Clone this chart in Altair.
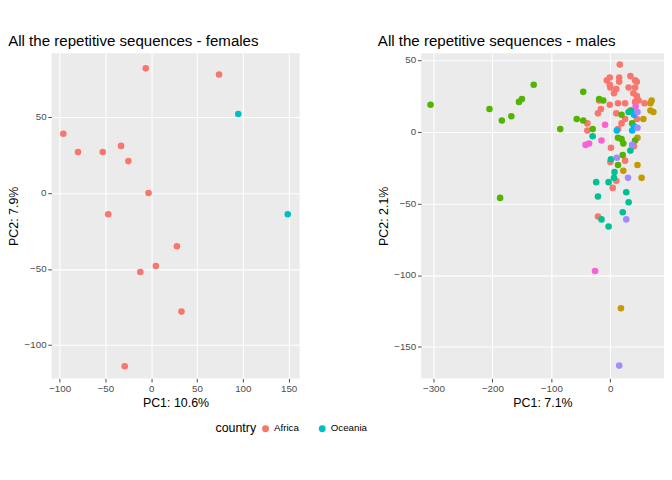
import altair as alt
import pandas as pd

f_x = [-96, -80, -53, -33, -25, -47, -3, -6, 74, 95, 149, 28, 5, -12, 33, -29]
f_y = [39, 27, 27, 31, 21, -14, 0, 82, 78, 52, -14, -35, -48, -52, -78, -114]
f_c = ["Africa"] * 9 + ["Oceania"] * 2 + ["Africa"] * 5

m_red = [(16,47),(-1,38),(-6,36),(15,38),(34,39),(42,36),(45,35),(-1,33),(15,35),(0,31),(10,30),(6,27),
         (31,31),(42,31),(39,27),(45,25),(48,22),(42,21),(58,20),(-19,22),(-1,19),(13,20),(25,20),(-16,16),
         (-21,13),(10,13),(34,15),(45,9),(25,9),(19,6),(-39,6),(13,2),(-39,1),(1,-11),(0,-21),(25,-20),
         (10,-34),(4,-39),(-21,-59),(40,-10)]
m_green = [(-46,28),(-19,23),(-12,22),(-57,9),(-46,8),(-85,2),(-30,2),(19,12),(37,6),(13,-4),(19,-5),
           (22,-8),(42,-6),(21,-16),(13,-23),(-305,19),(-205,16),(-184,8),(-168,11),(-155,21),(-150,23),
           (-130,33),(-187,-46)]
m_teal = [(31,14),(36,15),(-30,-3),(34,-13),(1,-19),(7,-28),(6,-32),(-24,-35),(-3,-35),(27,-42),
          (-21,-45),(31,-49),(21,-56),(-15,-61),(-3,-66)]
m_gold = [(70,22),(68,20),(68,15),(73,14),(56,9),(46,-4),(46,-23),(22,-27),(53,-32),(18,-123)]
m_blue = [(40,12),(40,4),(37,1),(11,1)]
m_purple = [(46,14),(46,3),(37,-9),(11,-18),(30,-32),(27,-61),(15,-163)]
m_magenta = [(43,18),(-9,5),(-15,-6),(-36,-8),(-42,-9),(-26,-97)]

groups = [("A", m_red), ("B", m_gold), ("C", m_green), ("D", m_teal),
          ("E", m_blue), ("F", m_purple), ("G", m_magenta)]
mrows = [{"x": x, "y": y, "g": g} for g, pts in groups for x, y in pts]
mdf = pd.DataFrame(mrows)
fdf = pd.DataFrame({"x": f_x, "y": f_y, "country": f_c})

axis = dict(grid=True, gridColor="white", gridWidth=1.2, domain=False, tickColor="#333333",
            tickSize=4, labelColor="#4D4D4D", labelFontSize=11, titleFontSize=14,
            titleFontWeight="normal", titleColor="black", labelFont="Liberation Sans",
            titleFont="Liberation Sans")

left = alt.Chart(fdf).mark_circle(size=55, opacity=1).encode(
    x=alt.X("x:Q", title="PC1: 10.6%", scale=alt.Scale(domain=[-109, 162], nice=False),
            axis=alt.Axis(values=[-100, -50, 0, 50, 100, 150], **axis)),
    y=alt.Y("y:Q", title="PC2: 7.9%", scale=alt.Scale(domain=[-122, 92], nice=False),
            axis=alt.Axis(values=[-100, -50, 0, 50], **axis)),
    color=alt.Color("country:N", scale=alt.Scale(domain=["Africa", "Oceania"], range=["#F8766D", "#00BFC4"]),
                    legend=alt.Legend(orient="none", legendX=185, legendY=418, direction="horizontal",
                                      title="country", titleFontSize=14, titleFontWeight="normal",
                                      labelFontSize=11, titleOrient="left", symbolType="circle",
                                      symbolSize=60, titleFont="Liberation Sans",
                                      labelFont="Liberation Sans", columnPadding=20))
).properties(width=280, height=367,
             title=alt.Title("All the repetitive sequences - females", fontSize=17,
                             fontWeight="normal", anchor="start", font="Liberation Sans"))

right = alt.Chart(mdf).mark_circle(size=55, opacity=1).encode(
    x=alt.X("x:Q", title="PC1: 7.1%", scale=alt.Scale(domain=[-321, 91], nice=False),
            axis=alt.Axis(values=[-300, -200, -100, 0], **axis)),
    y=alt.Y("y:Q", title="PC2: 2.1%", scale=alt.Scale(domain=[-172, 55], nice=False),
            axis=alt.Axis(values=[-150, -100, -50, 0, 50], **axis)),
    color=alt.Color("g:N", scale=alt.Scale(domain=list("ABCDEFG"),
                    range=["#F8766D", "#C49A00", "#53B400", "#00C094", "#00B6EB", "#A58AFF", "#FB61D7"]),
                    legend=None)
).properties(width=274, height=367,
             title=alt.Title("All the repetitive sequences - males", fontSize=17,
                             fontWeight="normal", anchor="start", font="Liberation Sans"))

chart = alt.hconcat(left, right, spacing=12).resolve_scale(color="independent").configure(
    background="white", padding=0).configure_view(fill="#EBEBEB", strokeWidth=0)

chart.save("out.html", embed_options={"renderer": "svg", "actions": False})
